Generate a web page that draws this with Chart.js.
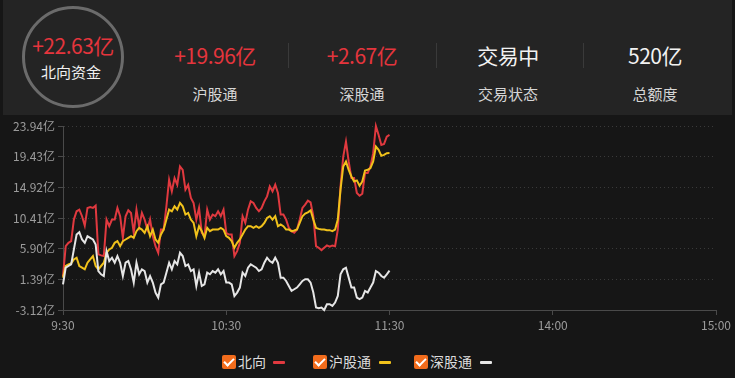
<!DOCTYPE html>
<html>
<head>
<meta charset="utf-8">
<script src="https://cdn.jsdelivr.net/npm/chart.js@4.4.1/dist/chart.umd.min.js"></script>
<style>
  body { margin: 0; width: 735px; height: 378px; background: #161616; overflow: hidden; position: relative;
         font-family: "Noto Sans CJK SC", "Noto Sans", sans-serif; }
  .head { position: absolute; left: 3px; top: 0; width: 729px; height: 115px; background: #242424; }
  .circle { position: absolute; left: 19px; top: 6px; width: 96px; height: 96px; border: 3px solid #6b6b6b; border-radius: 50%; }
  .txt { position: absolute; transform: translate(-50%, -50%); white-space: nowrap; }
  .red { color: #e5353d; }
  .val { font-size: 21px; letter-spacing: -0.5px; }
  .lbl { font-size: 15px; color: #d6d6d6; }
  .sep { position: absolute; top: 43px; width: 1px; height: 25px; background: #3a3a3a; }
  #wrap { position: absolute; left: 0; top: 113px; width: 735px; height: 232px; }
  .legend { position: absolute; top: 353px; left: 0; width: 735px; height: 18px; font-size: 14px; color: #dcdcdc; }
  .item { position: absolute; top: 0; height: 18px; line-height: 18px; white-space: nowrap; }
  .chk { position: absolute; left: 0; top: 2px; width: 14px; height: 14px; background: #f26c1c; border-radius: 2px; }
  .chk:after { content: ""; position: absolute; left: 4px; top: 1px; width: 4px; height: 8px;
               border: solid #fff; border-width: 0 2px 2px 0; transform: rotate(45deg); }
  .name { position: absolute; left: 16px; top: -1px; white-space: nowrap; }
  .dash { position: absolute; top: 8px; width: 12px; height: 3px; border-radius: 1px; }
</style>
</head>
<body>
<div class="head">
  <div class="circle"></div>
</div>
<div class="txt val red" style="left:73px;top:45px;">+22.63亿</div>
<div class="txt lbl" style="left:71px;top:71px;color:#f0f0f0;">北向资金</div>

<div class="txt val red" style="left:215px;top:55px;">+19.96亿</div>
<div class="txt lbl" style="left:215px;top:93px;">沪股通</div>
<div class="sep" style="left:288px;"></div>
<div class="txt val red" style="left:362px;top:55px;">+2.67亿</div>
<div class="txt lbl" style="left:362px;top:93px;">深股通</div>
<div class="sep" style="left:436px;"></div>
<div class="txt val" style="left:508px;top:55px;color:#f2f2f2;">交易中</div>
<div class="txt lbl" style="left:508px;top:93px;">交易状态</div>
<div class="sep" style="left:583px;"></div>
<div class="txt val" style="left:655px;top:55px;color:#f2f2f2;">520亿</div>
<div class="txt lbl" style="left:655px;top:93px;">总额度</div>

<div id="wrap"><canvas id="c"></canvas></div>

<div class="legend">
  <div class="item" style="left:222px;"><span class="chk"></span><span class="name">北向</span><span class="dash" style="left:51px;background:#e0393f;"></span></div>
  <div class="item" style="left:313px;"><span class="chk"></span><span class="name">沪股通</span><span class="dash" style="left:66px;background:#f1c21b;"></span></div>
  <div class="item" style="left:414px;"><span class="chk"></span><span class="name">深股通</span><span class="dash" style="left:66px;background:#e6e6e6;"></span></div>
</div>

<script>
// minutes from 9:30, one value per minute up to 11:30
const xTickMinutes = [0, 60, 120, 180, 240];
const xTickLabels = ['9:30', '10:30', '11:30', '14:00', '15:00'];
const yTicks = [-3.12, 1.39, 5.90, 10.41, 14.92, 19.43, 23.94];

// 北向 (亿)
const northValues = [
  1.88, 6.27, 6.76, 7.01, 10.18, 11.40, 11.64, 10.67, 9.30, 11.89,
  12.03, 11.89, 12.23, 5.06, 4.91, 4.81, 10.18, 9.20, 10.18, 10.18,
  11.89, 10.67, 7.49, 10.67, 11.54, 11.15, 8.23, 11.64, 9.20, 11.15,
  10.18, 8.71, 10.18, 7.74, 6.27, 5.30, 8.71, 8.71, 12.13, 16.03,
  14.33, 16.28, 15.30, 17.99, 17.50, 14.57, 15.30, 13.35, 12.62, 10.18,
  11.89, 8.23, 7.74, 11.64, 10.18, 10.91, 10.67, 11.40, 10.67, 11.64,
  8.23, 7.98, 7.98, 4.81, 5.54, 6.76, 10.67, 9.69, 11.64, 12.86,
  12.62, 11.89, 11.40, 11.89, 12.86, 13.59, 15.06, 14.33, 15.30, 14.08,
  10.91, 10.91, 10.18, 8.96, 8.47, 8.23, 8.71, 10.18, 11.89, 12.37,
  12.96, 12.72, 10.67, 6.27, 6.03, 5.69, 6.03, 6.37, 6.18, 6.37,
  6.27, 8.71, 15.06, 19.45, 21.65, 18.72, 16.28, 16.28, 14.08, 13.69,
  13.98, 17.01, 17.01, 17.99, 19.94, 23.94, 22.62, 21.16, 21.30, 22.38,
  22.63
];

// 沪股通 (亿)
const shValues = [
  1.64, 3.35, 3.59, 3.74, 4.32, 4.57, 3.35, 3.10, 2.86, 3.83,
  4.32, 4.81, 3.35, 2.86, 3.35, 3.83, 5.30, 5.79, 6.03, 6.76,
  7.01, 6.27, 7.01, 7.25, 7.49, 7.74, 7.49, 8.47, 8.96, 8.71,
  8.23, 9.20, 7.74, 8.71, 7.25, 6.76, 7.98, 8.71, 10.18, 11.64,
  11.40, 12.13, 11.64, 12.62, 12.13, 10.91, 11.15, 10.18, 9.69, 7.74,
  9.20, 8.47, 7.49, 8.96, 8.47, 8.71, 8.71, 8.71, 8.96, 8.71,
  7.74, 7.49, 7.01, 6.03, 6.76, 7.25, 7.98, 8.71, 9.20, 9.20,
  8.96, 9.20, 8.96, 9.20, 9.69, 10.42, 10.67, 10.18, 10.67, 9.20,
  9.45, 9.20, 8.71, 8.71, 8.47, 8.57, 8.71, 9.69, 10.67, 11.06,
  11.25, 11.54, 10.18, 8.96, 8.81, 8.71, 8.71, 8.62, 8.62, 8.47,
  8.71, 10.18, 14.57, 17.99, 18.72, 17.50, 16.52, 15.79, 15.94, 15.16,
  15.79, 17.40, 17.50, 17.74, 18.72, 20.91, 20.43, 19.55, 19.69, 19.94,
  19.96
];

// 深股通 (亿)
const szValues = [
  0.66, 3.10, 3.35, 3.59, 5.79, 7.98, 8.32, 7.25, 6.76, 7.74,
  7.49, 7.25, 6.52, 2.61, 2.13, 1.88, 5.54, 4.08, 4.57, 3.83,
  4.81, 3.83, 1.88, 3.83, 4.08, 2.86, 0.91, 3.83, 2.13, 2.86,
  2.61, 0.91, 1.88, 0.91, -0.56, -1.29, 0.66, 0.91, 2.37, 3.83,
  2.86, 4.08, 3.59, 5.30, 4.81, 3.35, 3.59, 2.61, 2.86, 0.42,
  2.37, 0.42, 0.66, 2.37, 2.13, 2.61, 2.37, 2.86, 2.13, 2.61,
  0.91, 0.91, 0.66, -1.05, -0.56, 0.18, 2.37, 1.88, 3.10, 3.59,
  3.35, 3.10, 2.61, 2.86, 3.83, 4.57, 4.08, 3.83, 4.57, 3.83,
  1.64, 1.64, 1.15, 0.42, -0.31, -0.07, 0.18, 0.66, 1.15, 1.40,
  1.40, 0.91, -0.56, -2.75, -2.85, -2.75, -3.12, -2.27, -2.27, -2.51,
  -2.02, -1.05, 2.13, 2.86, 3.10, 1.64, 0.18, 0.18, -1.29, -1.53,
  -1.29, -0.31, -0.56, 0.18, 0.91, 2.61, 2.37, 1.88, 1.64, 2.13,
  2.67
];

const toPoints = (arr) => arr.map((v, i) => ({ x: i, y: v }));

const mkLine = (label, values, color) => ({
  label: label,
  data: toPoints(values),
  borderColor: color,
  borderWidth: 2,
  pointRadius: 0,
  tension: 0,
  clip: false
});

new Chart(document.getElementById('c'), {
  type: 'line',
  data: {
    datasets: [
      mkLine('深股通', szValues, '#e6e6e6'),
      mkLine('沪股通', shValues, '#f1c21b'),
      mkLine('北向', northValues, '#e0393f')
    ]
  },
  options: {
    responsive: true,
    maintainAspectRatio: false,
    animation: false,
    layout: { padding: { top: 13, right: 19, left: 0, bottom: 0 } },
    plugins: { legend: { display: false }, tooltip: { enabled: false } },
    scales: {
      x: {
        type: 'linear',
        min: 0,
        max: 240,
        afterBuildTicks: (axis) => { axis.ticks = xTickMinutes.map(v => ({ value: v })); },
        afterFit: (axis) => { axis.height = 35; },
        ticks: {
          color: '#9c9c9c',
          font: { size: 12, family: '"Noto Sans CJK SC", sans-serif' },
          padding: 3,
          maxRotation: 0,
          autoSkip: false,
          callback: (v, i) => xTickLabels[i]
        },
        grid: { drawOnChartArea: false, drawTicks: true, tickLength: 5, tickColor: '#4a4a4a' },
        border: { color: '#4a4a4a', width: 1 }
      },
      y: {
        min: yTicks[0],
        max: yTicks[yTicks.length - 1],
        afterBuildTicks: (axis) => { axis.ticks = yTicks.map(v => ({ value: v })); },
        afterFit: (axis) => { axis.width = 63; },
        ticks: {
          color: '#9c9c9c',
          font: { size: 12, family: '"Noto Sans CJK SC", sans-serif' },
          padding: 3,
          autoSkip: false,
          callback: (v) => v.toFixed(2) + '亿'
        },
        grid: {
          color: '#3a3a3a',
          tickBorderDash: [],
          tickLength: 5,
          tickColor: '#4a4a4a'
        },
        border: { color: '#4a4a4a', width: 1, dash: [1, 3] }
      }
    }
  }
});
</script>
</body>
</html>
